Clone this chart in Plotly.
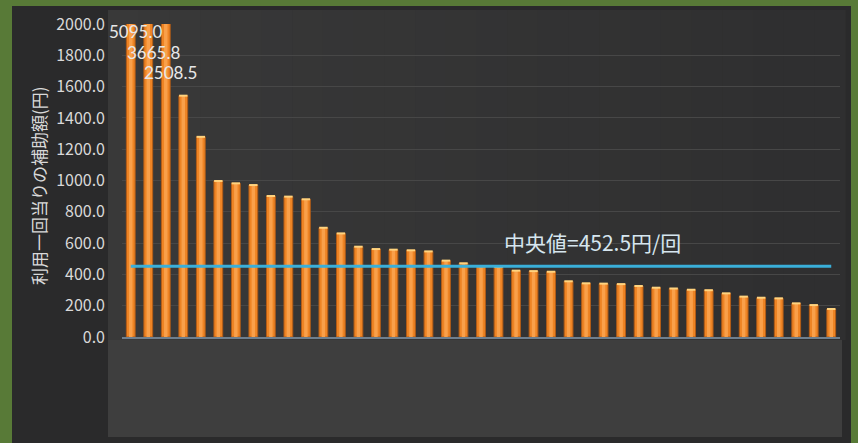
import numpy as np
import plotly.graph_objects as go

# Subsidy per use (yen), sorted in descending order; x is the rank of each entity
ranks = list(range(1, 42))
subsidy_per_use = [
    5095.0, 3665.8, 2508.5, 1542, 1279, 997, 982, 971, 901, 897,
    880, 698, 662, 577, 562, 558, 554, 547, 488, 471,
    452.5, 447, 424, 421, 417, 356, 343, 341, 338, 326,
    315, 310, 302, 299, 279, 258, 251, 247, 215, 204,
    179,
]
y_title = "利用一回当りの補助額(円)"
y_max = 2000
y_step = 200

median_value = float(np.median(subsidy_per_use))
median_label = f"中央値={median_value:.1f}円/回"

W, H = 858, 443
L, R, T, B = 122, 18, 24, 106
pw, ph = W - L - R, H - T - B


def px_x(p):
    return (p - L) / pw


def px_y(p):
    return (H - B - p) / ph


FONT = "Noto Sans CJK JP, Noto Sans, sans-serif"
NUM_FONT = "Lato, Noto Sans, sans-serif"

fig = go.Figure()

# bar body
fig.add_trace(go.Bar(
    x=ranks, y=subsidy_per_use,
    marker=dict(color="#ee8424", line=dict(color="#b35c16", width=1)),
    width=0.5, hoverinfo="skip", showlegend=False,
))
# lighter core for a rounded look
fig.add_trace(go.Bar(
    x=ranks, y=subsidy_per_use,
    marker=dict(color="#f9a04a", line=dict(width=0)),
    width=0.2, hoverinfo="skip", showlegend=False,
))
# glossy cap on each bar top
fig.add_trace(go.Scatter(
    x=ranks, y=subsidy_per_use, mode="markers",
    marker=dict(symbol="line-ew", size=6, line=dict(color="#ffd37e", width=2)),
    hoverinfo="skip", showlegend=False,
))
# median line
fig.add_trace(go.Scatter(
    x=ranks, y=[median_value] * len(ranks), mode="lines",
    line=dict(color="#3aafd9", width=3), hoverinfo="skip", showlegend=False,
))

shapes = []
# outer dark panel
shapes.append(dict(type="rect", xref="paper", yref="paper",
                   x0=px_x(12), x1=px_x(851), y0=px_y(443), y1=px_y(6),
                   fillcolor="#2a2a2b", line=dict(width=0), layer="below"))
# plot area with a soft horizontal gradient
n_strips = 24
x_left, x_right = 108, 845
c0, c1 = np.array([0x39, 0x39, 0x39]), np.array([0x2f, 0x2f, 0x30])
for i in range(n_strips):
    a = i / (n_strips - 1)
    c = (c0 * (1 - a) + c1 * a).astype(int)
    xa = x_left + (x_right - x_left) * i / n_strips
    xb = x_left + (x_right - x_left) * (i + 1) / n_strips
    shapes.append(dict(type="rect", xref="paper", yref="paper",
                       x0=px_x(xa), x1=px_x(xb + 0.6), y0=px_y(340), y1=px_y(10),
                       fillcolor=f"rgb({c[0]},{c[1]},{c[2]})",
                       line=dict(width=0), layer="below"))
# lower label band
shapes.append(dict(type="rect", xref="paper", yref="paper",
                   x0=px_x(108), x1=px_x(842), y0=px_y(437), y1=px_y(340),
                   fillcolor="#3e3e3e", line=dict(width=0), layer="below"))

annotations = []
# values of bars that run past the top of the axis
shifts = [-7, -28, -48]
k = 0
for r, v in zip(ranks, subsidy_per_use):
    if v > y_max and k < len(shifts):
        annotations.append(dict(
            x=r, y=y_max, xref="x", yref="y", text=f"{v:.1f}",
            showarrow=False, xanchor="center", yanchor="middle",
            xshift=5, yshift=shifts[k],
            font=dict(family=NUM_FONT, size=17, color="#e8e8e8")))
        k += 1

annotations.append(dict(
    x=px_x(502), y=median_value, xref="paper", yref="y", text=median_label,
    showarrow=False, xanchor="left", yanchor="middle", yshift=24,
    font=dict(family=FONT, size=21, color="#d6e6ef")))

annotations.append(dict(
    x=px_x(38), y=px_y(186), xref="paper", yref="paper", text=y_title,
    textangle=-90, showarrow=False, xanchor="center", yanchor="middle",
    font=dict(family=FONT, size=17, color="#d9d9d9")))

fig.update_layout(
    width=W, height=H,
    margin=dict(l=L, r=R, t=T, b=B, pad=0),
    paper_bgcolor="#587a37",
    plot_bgcolor="rgba(0,0,0,0)",
    barmode="overlay",
    font=dict(family=FONT, color="#d9d9d9"),
    shapes=shapes,
    annotations=annotations,
    xaxis=dict(
        range=[0.5, len(ranks) + 0.5], showticklabels=False, ticks="",
        showgrid=False, showline=True, linecolor="#6f7f8e", linewidth=2,
        zeroline=False, fixedrange=True,
    ),
    yaxis=dict(
        range=[0, y_max], dtick=y_step, tick0=0, tickformat=".1f",
        showgrid=True, gridcolor="#474747", gridwidth=1, zeroline=False,
        showline=False, ticks="", ticklabelstandoff=16,
        tickfont=dict(family=FONT, size=16, color="#d9d9d9"),
        fixedrange=True,
    ),
)

fig.write_html("out.html")
